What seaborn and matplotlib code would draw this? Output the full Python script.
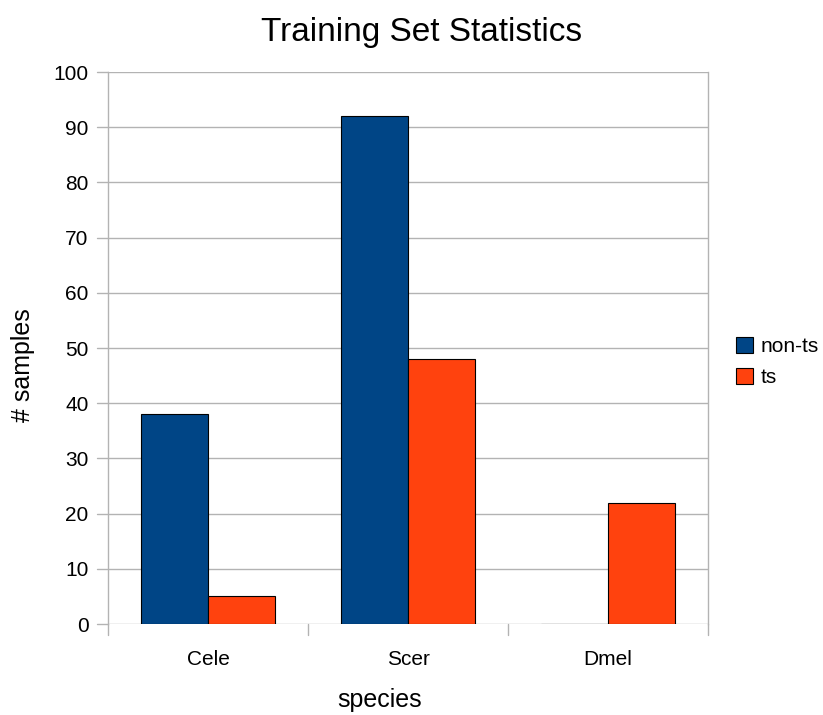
import matplotlib
matplotlib.use("Agg")
import matplotlib.pyplot as plt
import matplotlib.patches as mpatches
import seaborn as sns
import pandas as pd

species = ["Cele", "Scer", "Dmel"]
non_ts = [38, 92, 0]
ts = [5, 48, 22]
series_names = ["non-ts", "ts"]
colors = ["#004586", "#ff420e"]
y_ticks = list(range(0, 101, 10))

df = pd.DataFrame({
    "species": species * 2,
    "count": non_ts + ts,
    "group": [series_names[0]] * 3 + [series_names[1]] * 3,
})

sns.set_theme(style="white")
plt.rcParams["font.family"] = ["Liberation Sans", "DejaVu Sans"]
plt.rcParams["text.color"] = "black"

fig = plt.figure(figsize=(8.23, 7.15), dpi=100)
ax = fig.add_axes([108 / 823, 1 - 624 / 715, 600 / 823, 552 / 715])

sns.barplot(data=df, x="species", y="count", hue="group", order=species,
            hue_order=series_names, palette=colors, width=0.67, ax=ax,
            edgecolor="black", linewidth=0.8, saturation=1, legend=False,
            errorbar=None)

ax.set_xlim(-0.5, 2.5)
ax.set_ylim(0, 100)
ax.set_yticks(y_ticks)
ax.set_xticks([0, 1, 2])
ax.set_xticklabels(species)
ax.tick_params(axis="y", labelsize=15, length=0, pad=14, labelcolor="black")
ax.tick_params(axis="x", labelsize=15, length=0, pad=19, labelcolor="black")
ax.yaxis.grid(True, color="#b3b3b3", linewidth=1)
ax.set_axisbelow(True)

for side in ["top", "bottom"]:
    ax.spines[side].set_visible(False)
for side in ["left", "right"]:
    ax.spines[side].set_color("#b3b3b3")
    ax.spines[side].set_linewidth(1)

# outward tick marks on the value and category axes
for y in y_ticks:
    ax.plot([-0.5 - 11 / 200, -0.5], [y, y], color="#b3b3b3", lw=1,
            clip_on=False, zorder=0)
for x in [-0.5, 0.5, 1.5, 2.5]:
    ax.plot([x, x], [0, -11 / 5.52], color="#b3b3b3", lw=1,
            clip_on=False, zorder=0)

ax.set_xlabel("")
ax.set_ylabel("")
fig.text(380 / 823, 1 - 700 / 715, "species", fontsize=18,
         ha="center", va="center")
fig.text(23 / 823, 1 - 365 / 715, "# samples", fontsize=18, rotation=90,
         ha="center", va="center")

fig.text(422 / 823, 1 - 33 / 715, "Training Set Statistics", fontsize=24,
         ha="center", va="center")

handles = [mpatches.Patch(facecolor=c, edgecolor="black", linewidth=0.8, label=n)
           for c, n in zip(colors, series_names)]
fig.legend(handles=handles, loc="center left",
           bbox_to_anchor=(726 / 823, 1 - 362 / 715), frameon=False,
           fontsize=15, handlelength=0.8, handleheight=0.8,
           handletextpad=0.35, labelspacing=0.55, borderpad=0)

fig.savefig("out.png", dpi=100)
